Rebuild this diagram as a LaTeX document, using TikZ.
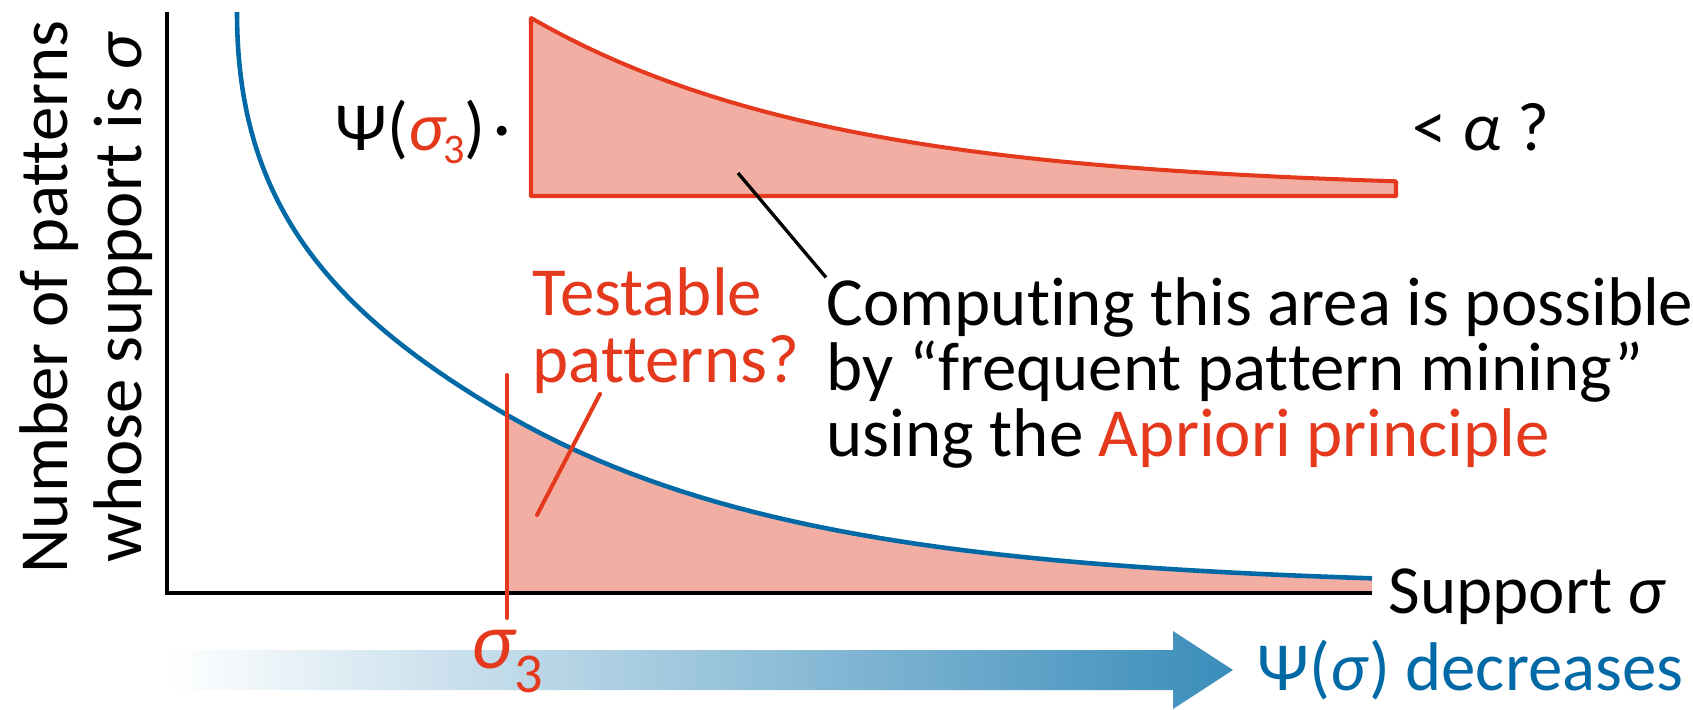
\documentclass[tikz,border=0pt]{standalone}
\usepackage{fontspec}
\setmainfont{Carlito}[Ligatures=NoCommon]
\setlength{\lineskiplimit}{-20pt}

\definecolor{tred}{HTML}{E5391D}
\definecolor{tpink}{HTML}{F2AEA3}
\definecolor{tblue}{HTML}{0069A6}
\definecolor{tarrow}{HTML}{3A8DBA}

\newcommand{\tailarea}{(507,593) -- plot[domain=507:1372,samples=50] (\x,{588-173*exp(-(\x-507)/300)}) -- (1372,593) -- cycle}
\newcommand{\idx}[1]{\kern-0.05em\raisebox{-0.2em}{\fontsize{12}{12}\selectfont #1}}

\begin{document}
\begin{tikzpicture}[x=0.1mm,y=-0.1mm,
  txt/.style={inner sep=0pt,font=\fontsize{19.6}{18.8}\selectfont},
  axe/.style={line width=0.95pt},
  courbe/.style={draw=tblue,line width=1.3pt},
  rouge/.style={draw=tred,line width=1.15pt,line cap=round}]
\useasboundingbox (0,0) rectangle (1693,709);
\shade[left color=white,right color=tarrow] (165,650) -- (1173,650) -- (1173,631) -- (1233,670) -- (1173,709) -- (1173,690) -- (165,690) -- cycle;
\fill[tpink] \tailarea;
\draw[axe] (167,12) -- (167,593) -- (1372,593);
\draw[courbe] (237,12) .. controls (237,192) and (317,305) .. (507,415);
\draw[courbe] plot[domain=507:1372,samples=50] (\x,{588-173*exp(-(\x-507)/300)});
\begin{scope}[shift={(24,-397)}] % la même aire, remontée
\filldraw[fill=tpink,draw=tred,line width=1.15pt,line join=round] \tailarea;
\end{scope}
\coordinate (s3haut) at (507,375);
\coordinate (s3bas) at (507,618);
\draw[rouge] (s3haut) -- (s3bas);
\node[txt,tred,anchor=base,font=\fontsize{23}{23}\selectfont] (s3) at (507,668) {\textit{σ}\kern-0.03em\raisebox{-0.3em}{\fontsize{16}{16}\selectfont 3}};

\node[txt,anchor=base east] (psi) at (512,150) {Ψ(\textcolor{tred}{\textit{σ}\idx{3}})\kern0.12em·};
\node[txt,anchor=base west] (alpha) at (1412,150) {< \textit{α} ?};
\node[txt,tred,anchor=base west,align=left] (testable) at (532,382) {Testable\\patterns?};
\node[txt,anchor=base west,align=left,font=\fontsize{19.6}{18.5}\selectfont] (calcul) at (826,456) {Computing this area is possible\\by “frequent pattern mining”\\using the \textcolor{tred}{Apriori principle}};
\node[txt,anchor=base west] (support) at (1388,613) {Support \textit{σ}};
\node[txt,tblue,anchor=base west] (baisse) at (1257,690) {Ψ(\textit{σ}) decreases};
\node[txt,rotate=90,align=center,font=\fontsize{19.6}{21}\selectfont] (ylab) at (86,297) {Number of patterns\\whose support is \textit{σ}};

\coordinate (aire) at (738,173);
\draw[line width=0.95pt] (aire) -- (calcul.north west);
\coordinate (zone) at (537,515);
\draw[rouge] ([xshift=6.8mm]testable.south west) -- (zone);
\end{tikzpicture}
\end{document}
